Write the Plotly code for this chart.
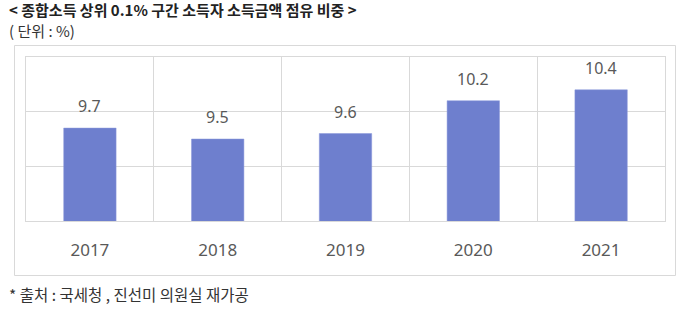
import plotly.graph_objects as go

years = ["2017", "2018", "2019", "2020", "2021"]
shares = [9.7, 9.5, 9.6, 10.2, 10.4]
value_labels = ["9.7", "9.5", "9.6", "10.2", "10.4"]

W, H = 680, 310
L, R, T, B = 26, 665, 57, 221  # plot area in px
pw, ph = R - L, B - T

def px(x):
    return (x - L) / pw

def py(y):
    return (B - y) / ph

fig = go.Figure()
fig.add_trace(go.Bar(
    x=years, y=shares, width=0.41,
    marker=dict(color="#6E7FCE", line=dict(color="#8a98da", width=0.5)),
    hoverinfo="skip",
))

annotations = []
for i, (v, lab) in enumerate(zip(shares, value_labels)):
    annotations.append(dict(x=i, y=v, xref="x", yref="y", text=lab, showarrow=False,
                            yshift=22, yanchor="middle",
                            font=dict(family="Noto Sans", size=16, color="#595959")))

annotations += [
    dict(xref="paper", yref="paper", x=px(7), y=py(10), xanchor="left", yanchor="middle",
         text="<b>< 종합소득 상위 0.1% 구간 소득자 소득금액 점유 비중 ></b>", showarrow=False,
         font=dict(family="Noto Sans CJK KR", size=15, color="#222222")),
    dict(xref="paper", yref="paper", x=px(7), y=py(30.5), xanchor="left", yanchor="middle",
         text="( 단위 : %)", showarrow=False,
         font=dict(family="Noto Sans CJK KR", size=15, color="#333333")),
    dict(xref="paper", yref="paper", x=px(7), y=py(294), xanchor="left", yanchor="middle",
         text="* 출처 : 국세청 , 진선미 의원실 재가공", showarrow=False,
         font=dict(family="Noto Sans CJK KR", size=15.5, color="#333333")),
]

fig.update_layout(
    width=W, height=H,
    margin=dict(l=L, r=W - R, t=T, b=H - B, pad=0),
    paper_bgcolor="white", plot_bgcolor="white",
    showlegend=False,
    annotations=annotations,
    shapes=[dict(type="rect", xref="paper", yref="paper",
                 x0=px(14.5), x1=px(675.5), y0=py(275.5), y1=py(45.5),
                 line=dict(color="#d9d9d9", width=1), layer="below")],
    xaxis=dict(type="category", tickson="boundaries", showgrid=True, gridcolor="#d9d9d9",
               gridwidth=1, showline=True, mirror=True, linecolor="#d9d9d9", ticks="",
               tickfont=dict(family="Noto Sans", size=17, color="#595959"),
               ticklabelstandoff=14, range=[-0.5, 4.5]),
    yaxis=dict(range=[8, 11], dtick=1, showgrid=True, gridcolor="#d9d9d9", gridwidth=1,
               showline=True, mirror=True, linecolor="#d9d9d9", showticklabels=False,
               zeroline=False, ticks=""),
)

fig.write_html("out.html")
